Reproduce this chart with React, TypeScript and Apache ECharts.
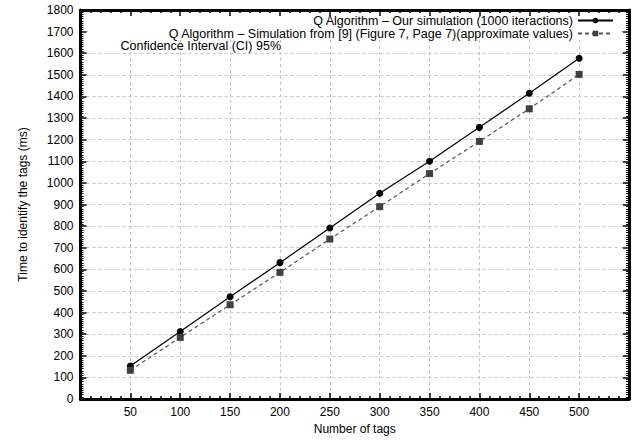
import React, { useEffect, useRef } from "react";
import * as echarts from "echarts";

const tagCounts = [50, 100, 150, 200, 250, 300, 350, 400, 450, 500];
const ourSimulation = [153, 312, 473, 631, 791, 952, 1100, 1257, 1415, 1577];
const referenceSimulation = [133, 285, 436, 586, 740, 890, 1043, 1192, 1343, 1502];
const seriesNames = [
  "Q Algorithm – Our simulation (1000 iteractions)",
  "Q Algorithm – Simulation from [9] (Figure 7, Page 7)(approximate values)",
];
const annotation = "Confidence Interval (CI) 95%";
const xTitle = "Number of tags";
const yTitle = "Time to identify the tags (ms)";

export default function App() {
  const ref = useRef<HTMLDivElement>(null);
  useEffect(() => {
    const chart = echarts.init(ref.current!, null, { renderer: "svg" });
    const font = "Liberation Sans, Arial, Helvetica, sans-serif";
    const frame = { show: true, onZero: false, lineStyle: { color: "#000", width: 3 } };
    const tick = { show: true, inside: true, length: 6, lineStyle: { color: "#000", width: 1.5 } };
    const grid = { color: "#c4c4c4", width: 1, type: [3, 3] as any };
    const xMinor = { show: true, splitNumber: 5, length: 3, lineStyle: { color: "#000", width: 1.5 } };
    const yMinor = { show: true, splitNumber: 10, length: 3, lineStyle: { color: "#000", width: 1 } };
    const xBase = { type: "value", min: 0, max: 550, interval: 50 };
    const yBase = { type: "value", min: 0, max: 1800, interval: 100 };
    chart.setOption({
      animation: false,
      textStyle: { fontFamily: font },
      grid: { left: 80.5, right: 10, top: 10, bottom: 38.5, containLabel: false },
      xAxis: [
        {
          ...xBase,
          position: "bottom",
          axisLine: frame,
          axisTick: tick,
          minorTick: xMinor,
          axisLabel: {
            fontSize: 12,
            color: "#000",
            fontFamily: font,
            margin: 7,
            formatter: (v: number) => (v === 0 || v === 550 ? "" : String(v)),
          },
          splitLine: { show: true, lineStyle: grid },
          name: xTitle,
          nameLocation: "middle",
          nameGap: 24,
          nameTextStyle: { fontSize: 12, color: "#000", fontFamily: font },
        },
        {
          ...xBase,
          position: "top",
          axisLine: frame,
          axisTick: tick,
          minorTick: xMinor,
          axisLabel: { show: false },
          splitLine: { show: false },
          z: 3,
        },
      ],
      yAxis: [
        {
          ...yBase,
          position: "left",
          axisLine: frame,
          axisTick: tick,
          minorTick: yMinor,
          axisLabel: {
            fontSize: 12,
            color: "#000",
            fontFamily: font,
            margin: 7,
            formatter: (v: number) => String(v),
          },
          splitLine: { show: true, lineStyle: grid },
          name: yTitle,
          nameLocation: "middle",
          nameGap: 52,
          nameRotate: 90,
          nameTextStyle: { fontSize: 12, color: "#000", fontFamily: font },
        },
        {
          ...yBase,
          position: "right",
          axisLine: frame,
          axisTick: tick,
          minorTick: yMinor,
          axisLabel: { show: false },
          splitLine: { show: false },
          z: 3,
        },
      ],
      legend: {
        right: 25,
        top: 14,
        orient: "vertical",
        align: "right",
        itemWidth: 35,
        itemHeight: 7,
        itemGap: 0,
        padding: 0,
        textStyle: { fontSize: 12.5, color: "#000", fontFamily: font, lineHeight: 12.6 },
        data: seriesNames,
      },
      graphic: [
        {
          type: "rect",
          z: 1,
          shape: { x: 88, y: 12, width: 533, height: 28 },
          style: { fill: "#fff" },
          silent: true,
        },
        {
          type: "text",
          z: 5,
          x: 120.5,
          y: 46,
          style: {
            text: annotation,
            fontSize: 12.5,
            fontFamily: font,
            fill: "#000",
            verticalAlign: "middle",
          },
        },
      ],
      series: [
        {
          name: seriesNames[0],
          type: "line",
          xAxisIndex: 0,
          yAxisIndex: 0,
          data: tagCounts.map((t, i) => [t, ourSimulation[i]]),
          symbol: "circle",
          symbolSize: 7,
          itemStyle: { color: "#000" },
          lineStyle: { color: "#000", width: 1.2 },
          z: 4,
        },
        {
          name: seriesNames[1],
          type: "line",
          xAxisIndex: 0,
          yAxisIndex: 0,
          data: tagCounts.map((t, i) => [t, referenceSimulation[i]]),
          symbol: "rect",
          symbolSize: 7,
          itemStyle: { color: "#404040" },
          lineStyle: { color: "#555", width: 1.2, type: [4, 3] },
          z: 4,
        },
      ],
    });
    return () => chart.dispose();
  }, []);
  return (
    <div
      ref={ref}
      style={{ width: 639, height: 440, position: "absolute", left: 0, top: 0, background: "#fff" }}
    />
  );
}
